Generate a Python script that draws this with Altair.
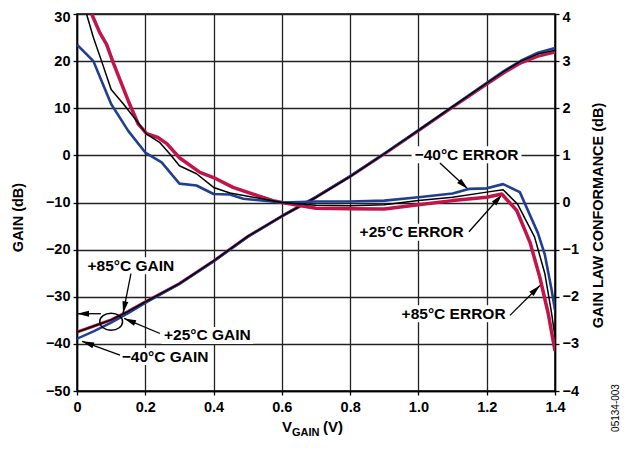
import math
import altair as alt
import pandas as pd

# ---------------- data ----------------
v_gain = [0, 0.05, 0.1, 0.15, 0.2, 0.3, 0.4, 0.5, 0.6, 0.7, 0.8, 0.9, 1.0, 1.1, 1.2, 1.25, 1.3, 1.35, 1.4]
gain_p85 = [-37.5, -36.2, -34.9, -33.1, -31.1, -27.2, -22.4, -17.2, -12.9, -8.9, -4.5, 0.3, 5.2, 10.2, 15.1, 17.5, 19.6, 21.0, 21.9]
gain_m40 = [-38.9, -37.3, -35.5, -33.5, -31.3, -27.3, -22.5, -17.3, -12.9, -8.8, -4.4, 0.4, 5.4, 10.4, 15.4, 17.9, 20.1, 21.8, 22.8]
gain_p25 = [-37.5, -36.2, -34.9, -33.1, -31.1, -27.2, -22.4, -17.2, -12.9, -8.9, -4.5, 0.35, 5.3, 10.35, 15.3, 17.8, 20.0, 21.5, 22.3]

v_err_p85 = [0.043, 0.067, 0.087, 0.106, 0.15, 0.179, 0.204, 0.237, 0.263, 0.30, 0.36, 0.40, 0.457, 0.527,
             0.574, 0.6, 0.7, 0.8, 0.9, 1.0, 1.1, 1.2, 1.244, 1.288, 1.327, 1.356, 1.38, 1.4]
err_p85 = [4.0, 3.6, 3.35, 2.97, 2.16, 1.67, 1.46, 1.38, 1.25, 0.95, 0.64, 0.53, 0.32, 0.15,
           0.04, 0.0, -0.12, -0.13, -0.14, -0.05, 0.04, 0.11, 0.18, -0.17, -0.85, -1.6, -2.35, -3.15]

v_err_m40 = [0.0, 0.048, 0.072, 0.10, 0.15, 0.20, 0.248, 0.30, 0.35, 0.40, 0.448, 0.487, 0.6, 0.7, 0.8,
             0.9, 1.0, 1.1, 1.15, 1.2, 1.248, 1.297, 1.35, 1.37, 1.39, 1.4]
err_m40 = [3.35, 3.0, 2.58, 2.09, 1.52, 1.06, 0.85, 0.40, 0.36, 0.18, 0.17, 0.08, 0.0, 0.02, 0.02,
           0.04, 0.11, 0.19, 0.29, 0.30, 0.39, 0.22, -0.65, -1.1, -1.85, -2.28]

v_err_p25 = [0.028, 0.048, 0.072, 0.10, 0.136, 0.175, 0.204, 0.243, 0.272, 0.30, 0.35, 0.40, 0.448, 0.526,
             0.6, 0.7, 0.8, 0.9, 1.0, 1.1, 1.2, 1.248, 1.29, 1.34, 1.37, 1.39, 1.4]
err_p25 = [4.0, 3.5, 3.0, 2.4, 2.09, 1.73, 1.45, 1.27, 1.03, 0.78, 0.61, 0.32, 0.20, 0.10,
           0.0, -0.06, -0.07, -0.05, 0.04, 0.11, 0.22, 0.27, -0.03, -0.73, -1.5, -2.35, -2.85]

x_ticks = [0, 0.2, 0.4, 0.6, 0.8, 1.0, 1.2, 1.4]
y_ticks = [-50, -40, -30, -20, -10, 0, 10, 20, 30]
e_ticks = [-4, -3, -2, -1, 0, 1, 2, 3, 4]

label_text = ["\u221240\u00b0C ERROR", "+25\u00b0C ERROR", "+85\u00b0C ERROR",
              "+85\u00b0C GAIN", "+25\u00b0C GAIN", "\u221240\u00b0C GAIN"]
label_v = [1.141, 0.980, 1.103, 0.158, 0.382, 0.258]
label_g = [0.13, -16.3, -33.6, -23.4, -38.2, -42.7]

arrow_start_v = [1.063, 1.148, 1.268, 0.158, 0.243, 0.126, 0.070]
arrow_start_g = [-1.6, -16.2, -33.96, -25.1, -37.8, -42.4, -33.6]
arrow_tip_v = [1.145, 1.245, 1.356, 0.135, 0.138, 0.015, 0.0]
arrow_tip_g = [-7.15, -8.3, -27.6, -33.5, -34.6, -39.45, -33.6]

ellipse_v = [0.10]
ellipse_g = [-35.3]

# ---------------- layout / style ----------------
W, H = 478, 377
PXV = W / 1.4
PXG = H / 80.0
RED = "#C0144B"
BLUE = "#213F8F"
BLACK = "#000000"
FONT = "Liberation Sans"
LABEL_SIZE = 15.5
box_w = [110, 110, 110, 92, 92, 92]
BOX_H = 17

xs = alt.Scale(domain=[0, 1.4], nice=False, zero=False)
ys = alt.Scale(domain=[-50, 30], nice=False, zero=False)
es = alt.Scale(domain=[-4, 4], nice=False, zero=False)

common_axis = dict(labelFont=FONT, labelFontSize=14.5, labelFontWeight="bold", labelColor=BLACK,
                   tickColor=BLACK, tickSize=4, tickWidth=1.3, domainColor=BLACK, domainWidth=1.5,
                   titleFont=FONT, titleFontWeight="bold", titleColor=BLACK, titleFontSize=14.5,
                   labelFlush=False)

x_axis = alt.Axis(values=x_ticks, title="", grid=True, gridColor="#222222", gridWidth=1.3,
                  labelExpr="datum.value == 0 ? '0' : format(datum.value, '.1f')",
                  labelPadding=5, **common_axis)
y_axis = alt.Axis(values=y_ticks, title="GAIN (dB)", grid=True, gridColor="#222222", gridWidth=1.3,
                  labelExpr="replace(format(datum.value, 'd'), '-', '\u2212')", labelPadding=3,
                  labelOffset={"condition": {"test": "datum.value == 30", "value": 3}, "value": 0},
                  titleAngle=270, titleX=-59, titleY=203, titleAlign="center", titleBaseline="middle",
                  **common_axis)
e_axis = alt.Axis(values=e_ticks, title="GAIN LAW CONFORMANCE (dB)", orient="right", grid=False,
                  labelExpr="replace(format(datum.value, 'd'), '-', '\u2212')", labelPadding=3,
                  labelOffset={"condition": {"test": "datum.value == 4", "value": 3}, "value": 0},
                  titleAngle=270, titleX=43, titleY=201, titleAlign="center", titleBaseline="middle",
                  **common_axis)


def X(f="V"):
    return alt.X(f"{f}:Q", scale=xs, axis=x_axis)


def Y(f="g"):
    return alt.Y(f"{f}:Q", scale=ys, axis=y_axis)


def E(f="e"):
    return alt.Y(f"{f}:Q", scale=es, axis=e_axis)


def gain_line(vals, color, width):
    df = pd.DataFrame({"V": v_gain, "g": vals})
    return alt.Chart(df).mark_line(color=color, strokeWidth=width, clip=True, strokeJoin="round").encode(
        x=X(), y=Y())


def err_line(v, vals, color, width):
    df = pd.DataFrame({"V": v, "e": vals})
    return alt.Chart(df).mark_line(color=color, strokeWidth=width, clip=True, strokeJoin="round").encode(
        x=X(), y=E())


# annotation tables
lab_df = pd.DataFrame({"text": label_text, "V": label_v, "g": label_g, "w": box_w})
lab_df["V0"] = lab_df["V"] - lab_df["w"] / 2 / PXV
lab_df["V1"] = lab_df["V"] + lab_df["w"] / 2 / PXV
lab_df["g0"] = lab_df["g"] - BOX_H / 2 / PXG
lab_df["g1"] = lab_df["g"] + BOX_H / 2 / PXG

arr_df = pd.DataFrame({"V": arrow_start_v, "g": arrow_start_g, "V2": arrow_tip_v, "g2": arrow_tip_g})
arr_df["ang"] = [
    math.degrees(math.atan2((tv - sv) * PXV, (tg - sg) * PXG)) % 360
    for sv, sg, tv, tg in zip(arrow_start_v, arrow_start_g, arrow_tip_v, arrow_tip_g)
]

ell_df = pd.DataFrame({"V": ellipse_v, "g": ellipse_g})

boxes = alt.Chart(lab_df).mark_rect(color="white").encode(
    x=X("V0"), x2="V1", y=Y("g0"), y2="g1")
texts = alt.Chart(lab_df).mark_text(font=FONT, fontSize=LABEL_SIZE, fontWeight="bold", color=BLACK,
                                    align="center", baseline="middle").encode(x=X(), y=Y(), text="text:N")
shafts = alt.Chart(arr_df).mark_rule(color=BLACK, strokeWidth=1.3).encode(
    x=X(), y=Y(), x2="V2", y2="g2")
heads = alt.Chart(arr_df).mark_point(shape="M0,0L0.5,2L-0.5,2Z", filled=True, size=144, color=BLACK,
                                     opacity=1, strokeWidth=0).encode(
    x=X("V2"), y=Y("g2"), angle=alt.Angle("ang:Q", scale=None))
ellipse = alt.Chart(ell_df).mark_point(shape="M-1,0A1,0.75,0,1,1,1,0A1,0.75,0,1,1,-1,0Z", filled=False,
                                       size=520, color=BLACK, strokeWidth=1.5, opacity=1).encode(
    x=X(), y=Y())

one = pd.DataFrame({"k": [0]})
xt_v = alt.Chart(one).mark_text(text="V", font=FONT, fontSize=15, fontWeight="bold", align="left",
                                baseline="alphabetic", color=BLACK).encode(x=alt.value(205), y=alt.value(418))
xt_sub = alt.Chart(one).mark_text(text="GAIN", font=FONT, fontSize=11, fontWeight="bold", align="left",
                                  baseline="alphabetic", color=BLACK).encode(x=alt.value(215), y=alt.value(421.5))
xt_u = alt.Chart(one).mark_text(text="(V)", font=FONT, fontSize=15, fontWeight="bold", align="left",
                                baseline="alphabetic", color=BLACK).encode(x=alt.value(246), y=alt.value(418))
code = alt.Chart(one).mark_text(text="05134-003", font=FONT, fontSize=10, align="center", angle=270,
                                baseline="middle", color=BLACK).encode(x=alt.value(539), y=alt.value(394))

gain_part = alt.layer(
    gain_line(gain_p85, RED, 3.0),
    gain_line(gain_m40, BLUE, 2.4),
    gain_line(gain_p25, BLACK, 1.4),
    boxes, texts, shafts, heads, ellipse, xt_v, xt_sub, xt_u, code,
)

err_part = alt.layer(
    err_line(v_err_p85, err_p85, RED, 3.5),
    err_line(v_err_m40, err_m40, BLUE, 2.6),
    err_line(v_err_p25, err_p25, BLACK, 1.5),
)

chart = alt.layer(gain_part, err_part).resolve_scale(y="independent").properties(
    width=W, height=H,
    padding={"left": 69, "top": 6, "right": 68, "bottom": 46},
    autosize=alt.AutoSizeParams(type="none"),
    background="white",
).configure_view(stroke=BLACK, strokeWidth=1.5)

chart.save("out.html", embed_options={"renderer": "svg", "actions": False})
